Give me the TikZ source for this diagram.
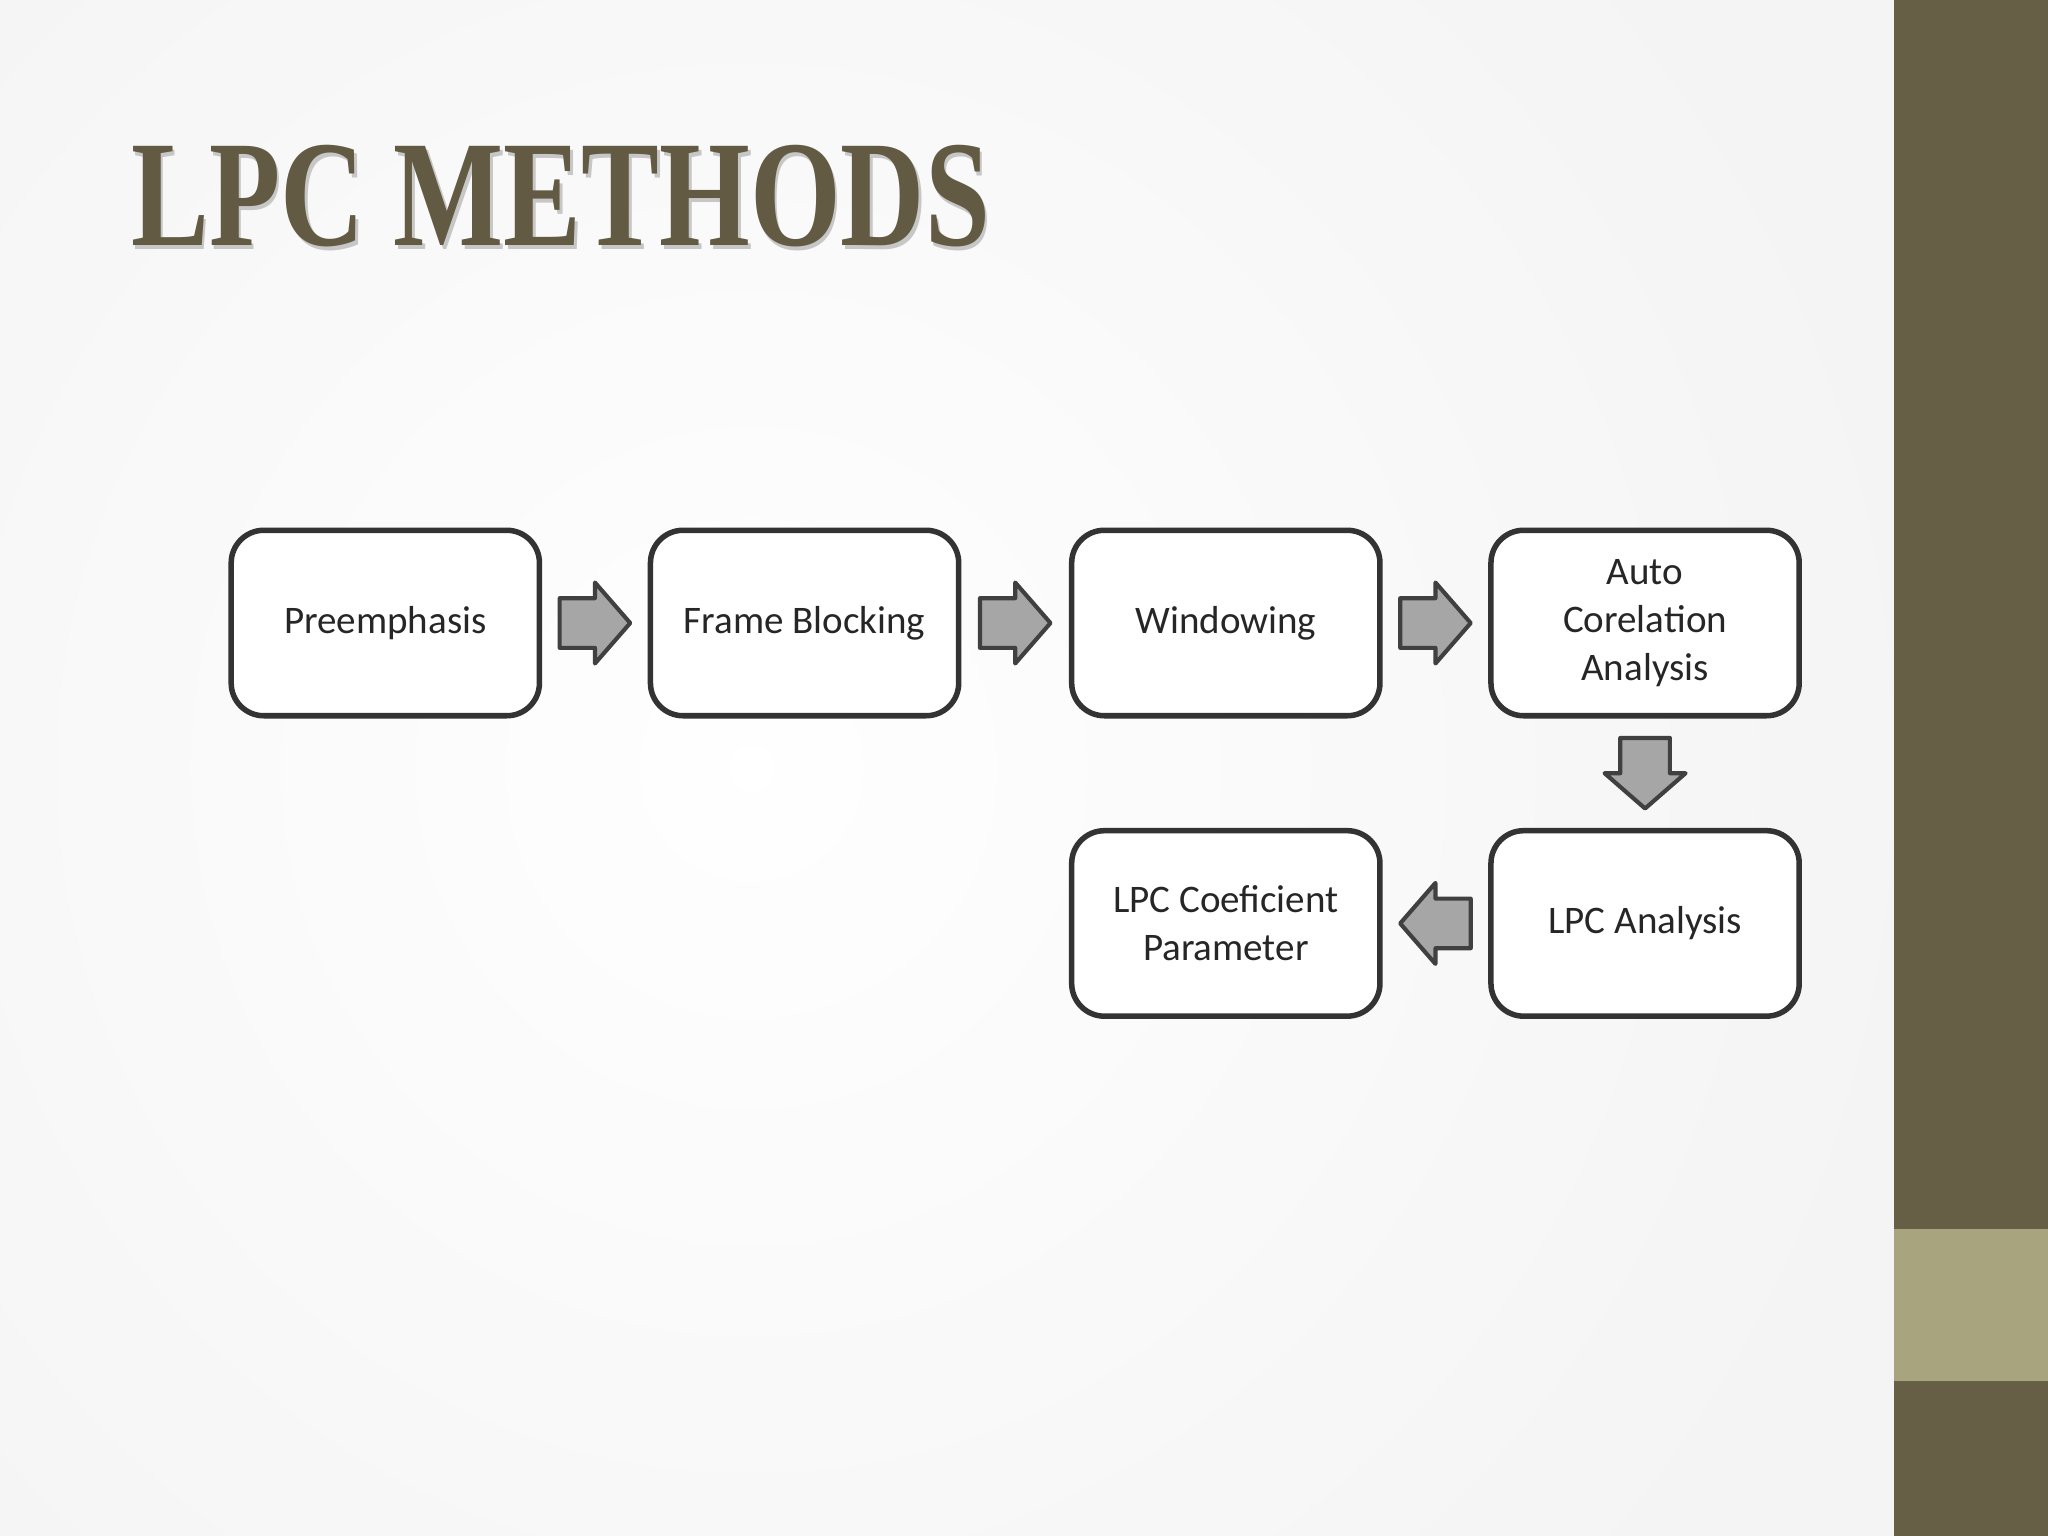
\documentclass[tikz,border=0pt]{standalone}
\usepackage{fontspec}
\setmainfont{Carlito}
\newfontfamily\titlefont{Liberation Serif}
\usetikzlibrary{positioning,calc}
\definecolor{olive}{HTML}{665E45}
\definecolor{lightolive}{HTML}{A8A47E}
\definecolor{titlecol}{HTML}{625A42}
\tikzset{
  stepbox/.style={draw=black!80, line width=1.2pt, rounded corners=2.5mm, fill=white,
    minimum width=2.36cm, minimum height=1.42cm, align=center, font=\fontsize{8.5}{10.5}\selectfont, text=black!85},
  blockarrow/.pic={
    \draw[draw=black!75, fill=black!35, line width=0.9pt, line join=round]
      (-0.27,-0.19) -- (0.0,-0.19) -- (0.0,-0.31) -- (0.27,0) -- (0.0,0.31)
      -- (0.0,0.19) -- (-0.27,0.19) -- cycle;
  }
}
\begin{document}
\begin{tikzpicture}
  \useasboundingbox (0,0) rectangle (15.68,-11.76);
  \shade[inner color=white, outer color=black!10] (-3,3) rectangle (14.5,-14.76);
  \fill[white, opacity=0.6] (0,0) rectangle (14.5,-11.76);
  % side bar
  \fill[olive] (14.5,0) rectangle (15.68,-11.76);
  \fill[lightolive] (14.5,-9.41) rectangle (15.68,-10.57);
  % title
  \node[anchor=west, text=black!22, xscale=0.77, inner sep=0pt] at (1.02,-1.53) {\titlefont\bfseries\fontsize{33}{36}\selectfont LPC METHODS};
  \node[anchor=west, text=titlecol, xscale=0.77, inner sep=0pt] (title) at (1.0,-1.5) {\titlefont\bfseries\fontsize{33}{36}\selectfont LPC METHODS};
  % boxes
  \node[stepbox] (pre) at (2.95,-4.77) {Preemphasis};
  \node[stepbox] (frame) at (6.16,-4.77) {Frame Blocking};
  \node[stepbox] (win) at (9.385,-4.77) {Windowing};
  \node[stepbox] (auto) at (12.595,-4.77) {Auto\\Corelation\\Analysis};
  \node[stepbox] (ana) at (12.595,-7.07) {LPC Analysis};
  \node[stepbox] (coef) at (9.385,-7.07) {LPC Coeficient\\Parameter};
  % arrows
  \pic at ($(pre.east)!0.5!(frame.west)$) {blockarrow};
  \pic at ($(frame.east)!0.5!(win.west)$) {blockarrow};
  \pic at ($(win.east)!0.5!(auto.west)$) {blockarrow};
  \pic[rotate=-90] at ($(auto.south)!0.5!(ana.north)$) {blockarrow};
  \pic[rotate=180] at ($(ana.west)!0.5!(coef.east)$) {blockarrow};
\end{tikzpicture}
\end{document}
